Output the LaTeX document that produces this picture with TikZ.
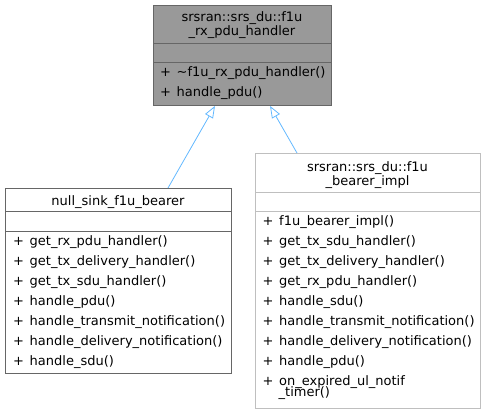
\documentclass[tikz,border=0pt]{standalone}
\usepackage{fontspec}
\setmainfont{DejaVu Sans}
\usetikzlibrary{arrows.meta}
\definecolor{topfill}{HTML}{999999}
\definecolor{darkedge}{HTML}{666666}
\definecolor{lightedge}{HTML}{BFBFBF}
\definecolor{inhcol}{HTML}{63B8FF}
\newcommand{\mem}[1]{\makebox[16.5pt][l]{+}#1}
\tikzset{
  x=1pt, y=-1pt,
  every node/.style={font=\fontsize{13}{14}\selectfont},
  classbox/.style={draw, rectangle, anchor=north west, inner sep=0pt, line width=0.9pt},
  member/.style={anchor=base west, inner sep=0pt},
  ctitle/.style={anchor=base, inner sep=0pt},
  inherit/.style={draw=inhcol, line width=0.8pt, -{Triangle[open, length=12pt, width=9pt]}},
  divider/.style={line width=0.9pt}
}
\begin{document}
\begin{tikzpicture}
\useasboundingbox (0,0) rectangle (485,413);
% top class
\node[classbox, draw=darkedge, fill=topfill, minimum width=178pt, minimum height=100pt] (base) at (153,5) {};
\draw[divider, darkedge] (153,43) -- (331,43);
\draw[divider, darkedge] (153,62) -- (331,62);
\node[ctitle] (bt1) at (242,21.5) {srsran::srs\_du::f1u};
\node[ctitle] (bt2) at (242,35.7) {\_rx\_pdu\_handler};
\node[member] (bm1) at (160,76.7) {\mem{\textasciitilde f1u\_rx\_pdu\_handler()}};
\node[member] (bm2) at (160,96.7) {\mem{handle\_pdu()}};
% left class
\node[classbox, draw=darkedge, fill=white, minimum width=226pt, minimum height=185pt] (nsb) at (5,188) {};
\draw[divider, darkedge] (5,211) -- (231,211);
\draw[divider, darkedge] (5,231) -- (231,231);
\node[ctitle] (lt) at (118,205) {null\_sink\_f1u\_bearer};
\node[member] (l1) at (13,245) {\mem{get\_rx\_pdu\_handler()}};
\node[member] (l2) at (13,265) {\mem{get\_tx\_delivery\_handler()}};
\node[member] (l3) at (13,285) {\mem{get\_tx\_sdu\_handler()}};
\node[member] (l4) at (13,305) {\mem{handle\_pdu()}};
\node[member] (l5) at (13,325) {\mem{handle\_transmit\_notification()}};
\node[member] (l6) at (13,345) {\mem{handle\_delivery\_notification()}};
\node[member] (l7) at (13,365) {\mem{handle\_sdu()}};
% right class
\node[classbox, draw=lightedge, fill=white, minimum width=225pt, minimum height=255pt] (impl) at (255,153) {};
\draw[divider, lightedge] (255,192) -- (480,192);
\draw[divider, lightedge] (255,211) -- (480,211);
\node[ctitle] (rt1) at (367.5,171) {srsran::srs\_du::f1u};
\node[ctitle] (rt2) at (367.5,185) {\_bearer\_impl};
\node[member] (r1) at (262.5,225) {\mem{f1u\_bearer\_impl()}};
\node[member] (r2) at (262.5,245) {\mem{get\_tx\_sdu\_handler()}};
\node[member] (r3) at (262.5,265) {\mem{get\_tx\_delivery\_handler()}};
\node[member] (r4) at (262.5,285) {\mem{get\_rx\_pdu\_handler()}};
\node[member] (r5) at (262.5,305) {\mem{handle\_sdu()}};
\node[member] (r6) at (262.5,325) {\mem{handle\_transmit\_notification()}};
\node[member] (r7) at (262.5,345) {\mem{handle\_delivery\_notification()}};
\node[member] (r8) at (262.5,365) {\mem{handle\_pdu()}};
\node[member] (r9) at (262.5,385) {\mem{on\_expired\_ul\_notif}};
\node[member] (r10) at (278.5,396.5) {\_timer()};
% inheritance
\draw[inherit] ([xshift=163pt]nsb.north west) -- ([xshift=62pt]base.south west);
\draw[inherit] ([xshift=42pt]impl.north west) -- ([xshift=117pt]base.south west);
\end{tikzpicture}
\end{document}
